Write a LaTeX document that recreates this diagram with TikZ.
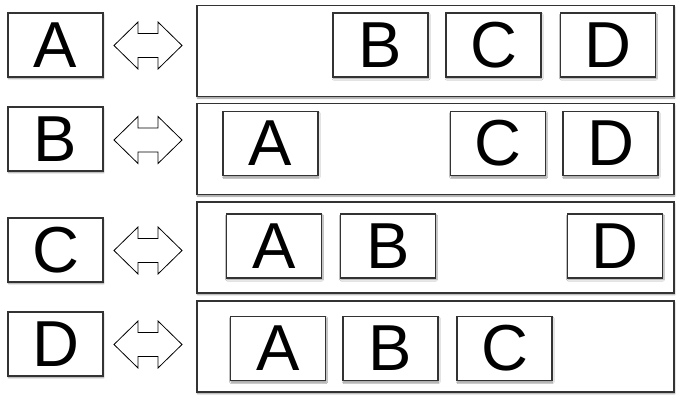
\documentclass[tikz,border=0pt]{standalone}
\usepackage{fontspec}
\setmainfont{Liberation Sans}
\usetikzlibrary{shadows.blur}
\definecolor{edge}{HTML}{333333}
\tikzset{
  x=1pt, y=-1pt,
  shade/.style={blur shadow={shadow xshift=0.6pt, shadow yshift=-1.6pt,
      shadow blur radius=1.6pt, shadow opacity=45}},
  letterbox/.style={draw=edge, line width=1.2pt, fill=white, shade,
      minimum width=95pt, minimum height=64pt, inner sep=0pt,
      font=\fontsize{65}{70}\selectfont},
  groupbox/.style={draw=edge, line width=1.2pt, fill=white, shade,
      minimum width=477pt, minimum height=91pt, inner sep=0pt},
  arrowline/.style={draw=black, line width=0.8pt, fill=white, line join=miter},
  swaparrow/.pic={
    \path[arrowline] (-34,0) -- (-10,-23.5) -- (-10,-12) -- (10,-12)
      -- (10,-23.5) -- (34,0) -- (10,23.5) -- (10,12) -- (-10,12)
      -- (-10,23.5) -- cycle;
  }
}
\begin{document}
\begin{tikzpicture}
\useasboundingbox (0,0) rectangle (683,404);

% row 1: A
\node[letterbox] (keyA) at (55.5,45) {A};
\pic (arrA) at (148,45.5) {swaparrow};
\node[groupbox] (grpA) at (435.5,51) {};
\node[letterbox] (aB) at (380.5,45) {B};
\node[letterbox] (aC) at (493.5,45) {C};
\node[letterbox] (aD) at (608,45) {D};

% row 2: B
\node[letterbox] (keyB) at (55.5,139) {B};
\pic (arrB) at (148,140) {swaparrow};
\node[groupbox] (grpB) at (435.5,149) {};
\node[letterbox] (bA) at (270.5,143.5) {A};
\node[letterbox] (bC) at (498,143.5) {C};
\node[letterbox] (bD) at (610.5,143.5) {D};

% row 3: C
\node[letterbox] (keyC) at (55.5,250) {C};
\pic (arrC) at (148,250.5) {swaparrow};
\node[groupbox] (grpC) at (435.5,247.5) {};
\node[letterbox] (cA) at (274,246) {A};
\node[letterbox] (cB) at (388,246) {B};
\node[letterbox] (cD) at (615,246) {D};

% row 4: D
\node[letterbox] (keyD) at (55.5,344) {D};
\pic (arrD) at (148,344.5) {swaparrow};
\node[groupbox] (grpD) at (435.5,346.5) {};
\node[letterbox] (dA) at (278,348.5) {A};
\node[letterbox] (dB) at (390.5,348.5) {B};
\node[letterbox] (dC) at (504.5,348.5) {C};
\end{tikzpicture}
\end{document}
